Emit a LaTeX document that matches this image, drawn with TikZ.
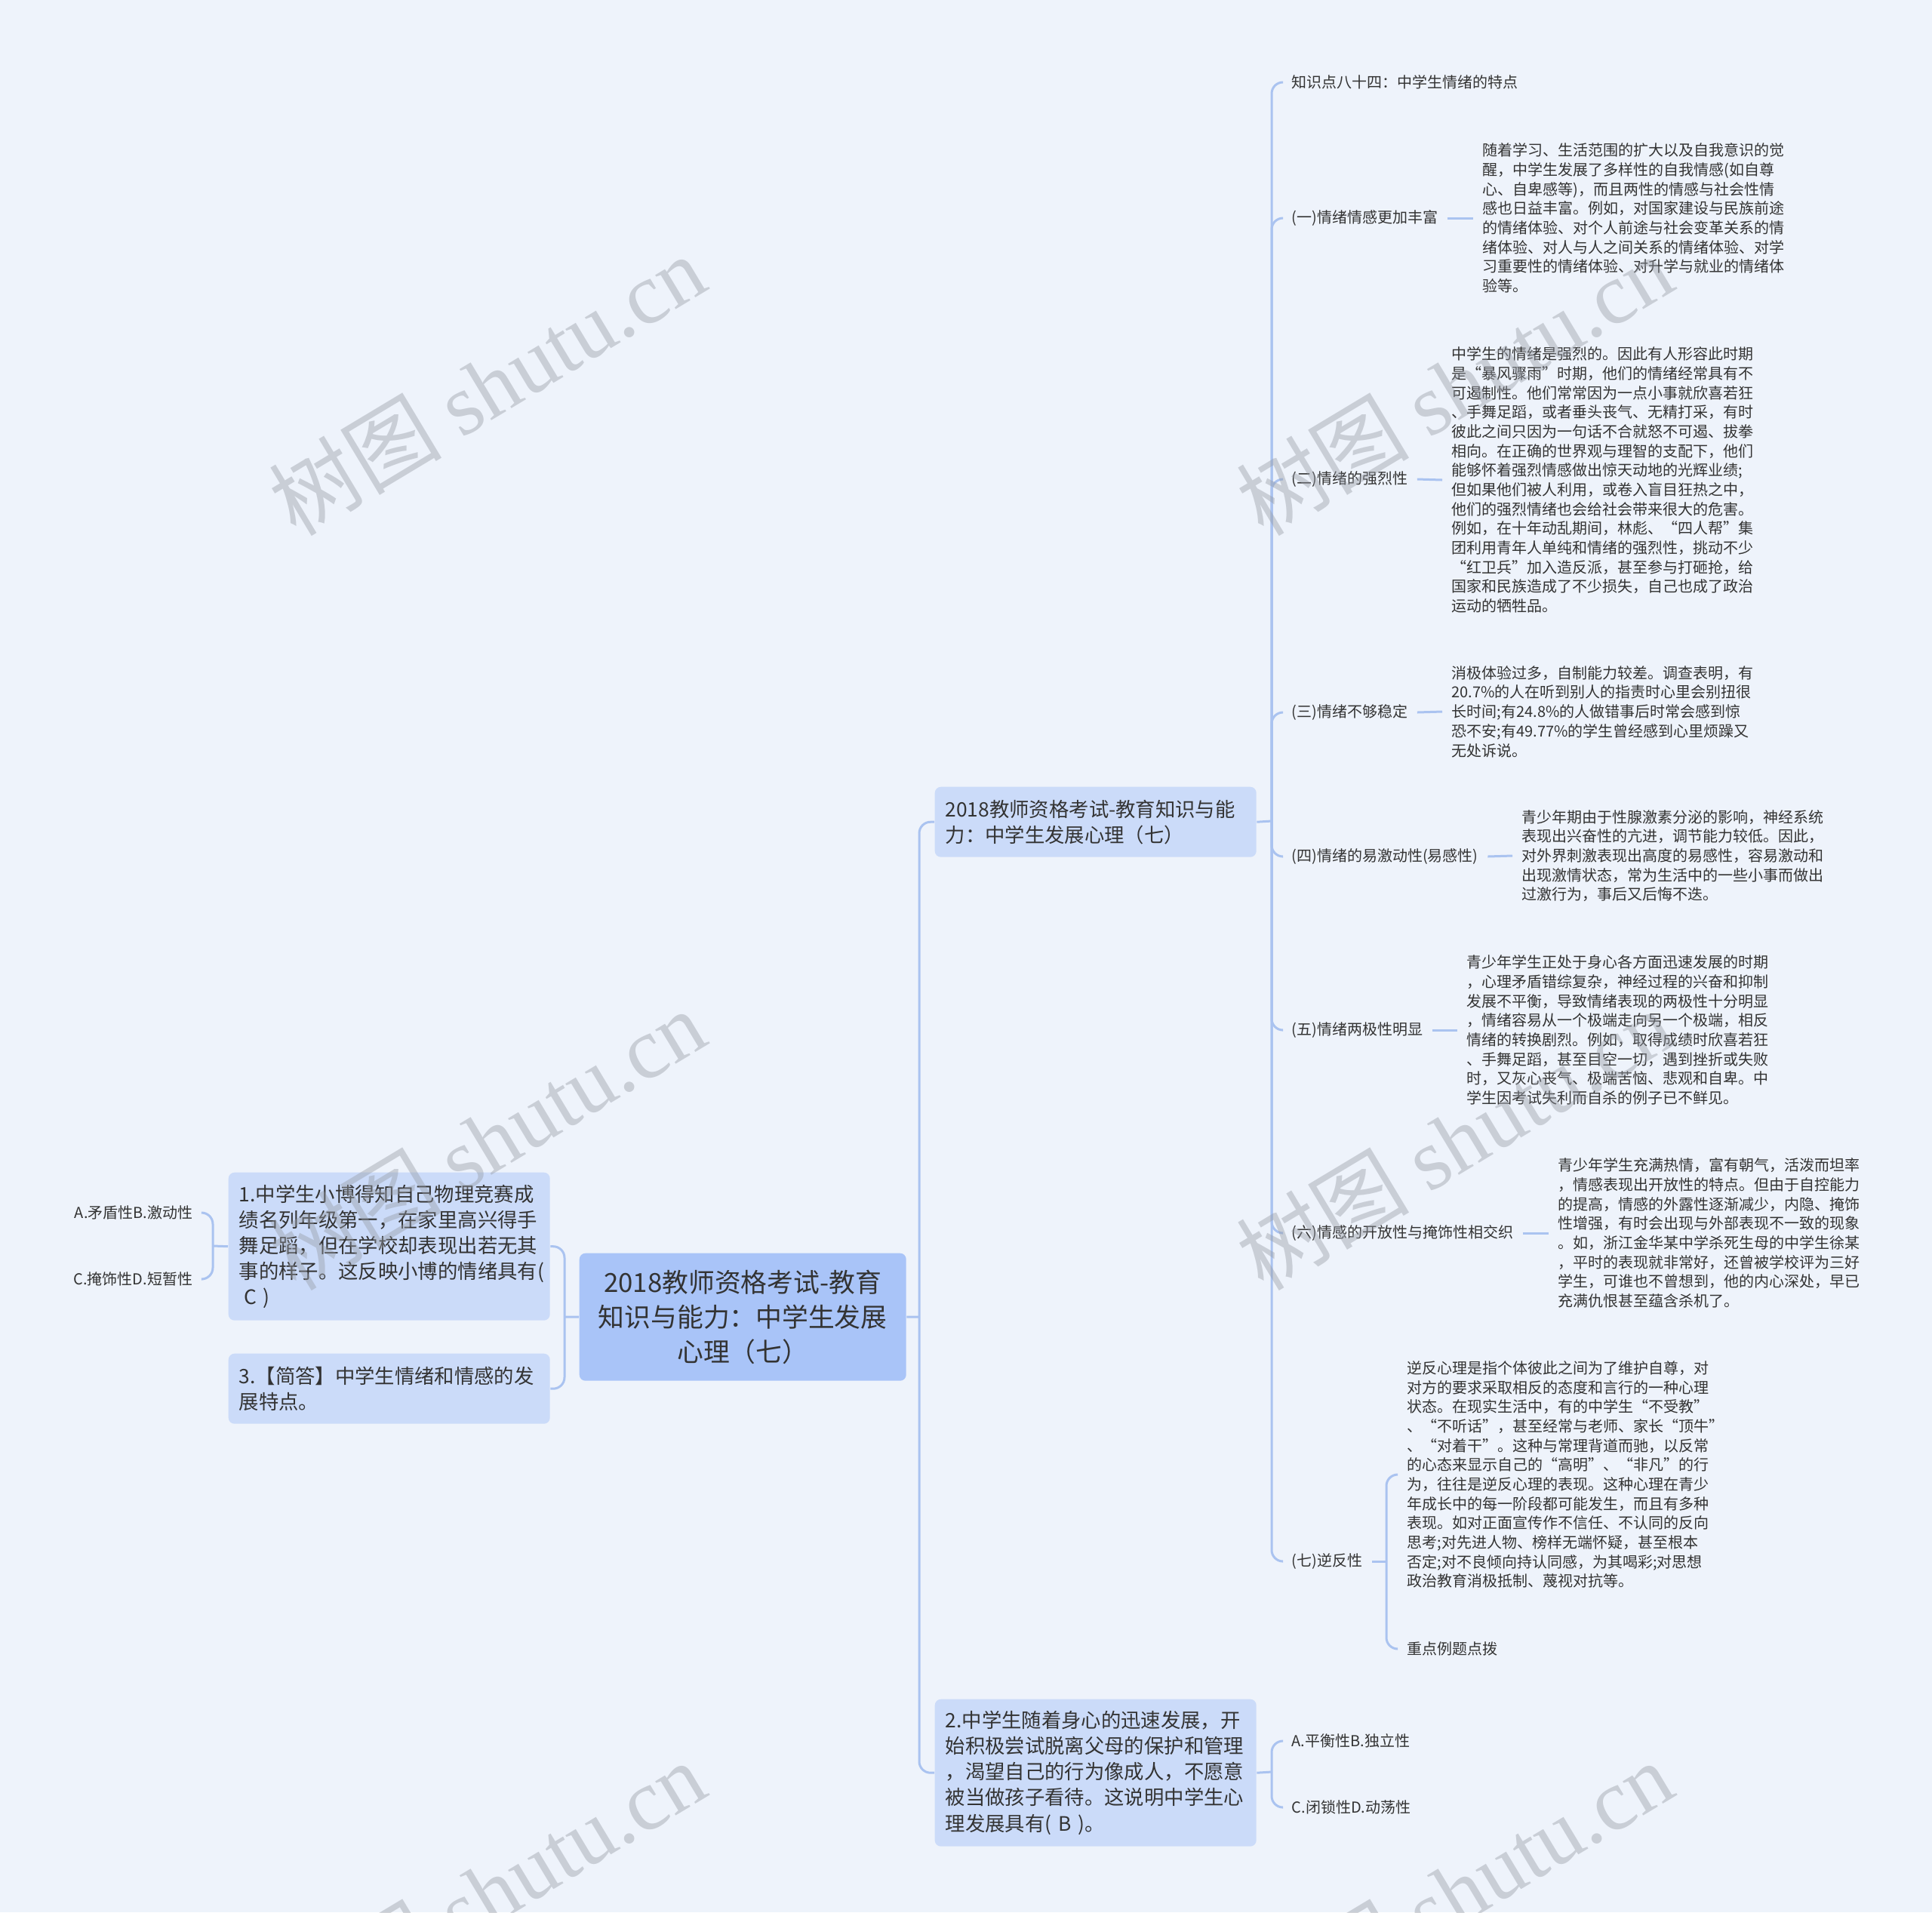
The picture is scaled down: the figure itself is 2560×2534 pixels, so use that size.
\documentclass[tikz,border=0pt]{standalone}
\usepackage{fontspec}
\setmainfont{Noto Sans CJK SC}
\newfontfamily\wmlatin{Liberation Serif}
\definecolor{bgc}{RGB}{238,243,251}
\definecolor{rootc}{RGB}{169,196,248}
\definecolor{boxc}{RGB}{203,219,249}
\definecolor{linec}{RGB}{170,195,240}
\definecolor{txt}{RGB}{51,51,51}
\definecolor{wmc}{RGB}{150,155,165}
\tikzset{
  conn/.style={draw=linec, line width=0.3mm, rounded corners=1.5mm},
  rootbox/.style={fill=rootc, rounded corners=0.8mm, text=txt, align=center, text width=40.5mm, minimum height=16.9mm, inner xsep=1.4mm, inner ysep=0pt, anchor=north west, font=\fontsize{9.9}{13.1}\selectfont},
  qbox/.style={fill=boxc, rounded corners=0.8mm, text=txt, align=left, text width=39.8mm, inner xsep=1.4mm, inner ysep=0pt, anchor=north west, font=\fontsize{7.5}{9.7}\selectfont},
  lbl/.style={text=txt, inner xsep=1.2mm, inner ysep=0pt, align=left, font=\fontsize{5.69}{7.31}\selectfont},
  wmark/.style={text=wmc, opacity=0.42, rotate=31, inner sep=0pt, font=\fontsize{32.7}{36}\selectfont}
}
\begin{document}
\begin{tikzpicture}[x=0.1mm, y=-0.1mm]
\useasboundingbox (0,0) rectangle (2560,2534);
\fill[bgc] (0,0) rectangle (2560,2534);

% boxes
\node[rootbox] (root) at (767,1660) {2018教师资格考试-教育\\知识与能力：中学生发展\\心理（七）};
\node[qbox, minimum height=9.3mm] (A) at (1238,1042) {2018教师资格考试-教育知识与能\\力：中学生发展心理（七）};
\node[qbox, minimum height=19.5mm] (B) at (1238,2251) {2.中学生随着身心的迅速发展，开\\始积极尝试脱离父母的保护和管理\\，渴望自己的行为像成人，不愿意\\被当做孩子看待。这说明中学生心\\理发展具有( B )。};
\node[qbox, minimum height=19.6mm] (q1) at (302,1553) {1.中学生小博得知自己物理竞赛成\\绩名列年级第一，在家里高兴得手\\舞足蹈，但在学校却表现出若无其\\事的样子。这反映小博的情绪具有(\\\hspace*{0.25em}C )};
\node[qbox, minimum height=9.3mm] (q3) at (302,1793) {3.【简答】中学生情绪和情感的发\\展特点。};

% left labels
\node[lbl, anchor=east] (c1) at (268,1607) {A.矛盾性B.激动性};
\node[lbl, anchor=east] (c2) at (268,1695) {C.掩饰性D.短暂性};

% right labels of A
\node[lbl, anchor=west] (k0) at (1699,109) {知识点八十四：中学生情绪的特点};
\node[lbl, anchor=west] (k1) at (1699,289) {(一)情绪情感更加丰富};
\node[lbl, anchor=west] (k2) at (1699,635) {(二)情绪的强烈性};
\node[lbl, anchor=west] (k3) at (1699,944) {(三)情绪不够稳定};
\node[lbl, anchor=west] (k4) at (1699,1135) {(四)情绪的易激动性(易感性)};
\node[lbl, anchor=west] (k5) at (1699,1365) {(五)情绪两极性明显};
\node[lbl, anchor=west] (k6) at (1699,1634) {(六)情感的开放性与掩饰性相交织};
\node[lbl, anchor=west] (k7) at (1699,2069) {(七)逆反性};

% paragraphs
\node[lbl, anchor=west] (p1) at (1952,289) {随着学习、生活范围的扩大以及自我意识的觉\\醒，中学生发展了多样性的自我情感(如自尊\\心、自卑感等)，而且两性的情感与社会性情\\感也日益丰富。例如，对国家建设与民族前途\\的情绪体验、对个人前途与社会变革关系的情\\绪体验、对人与人之间关系的情绪体验、对学\\习重要性的情绪体验、对升学与就业的情绪体\\验等。};
\node[lbl, anchor=west] (p2) at (1911,636) {中学生的情绪是强烈的。因此有人形容此时期\\是“暴风骤雨”时期，他们的情绪经常具有不\\可遏制性。他们常常因为一点小事就欣喜若狂\\、手舞足蹈，或者垂头丧气、无精打采，有时\\彼此之间只因为一句话不合就怒不可遏、拔拳\\相向。在正确的世界观与理智的支配下，他们\\能够怀着强烈情感做出惊天动地的光辉业绩;\\但如果他们被人利用，或卷入盲目狂热之中，\\他们的强烈情绪也会给社会带来很大的危害。\\例如，在十年动乱期间，林彪、“四人帮”集\\团利用青年人单纯和情绪的强烈性，挑动不少\\“红卫兵”加入造反派，甚至参与打砸抢，给\\国家和民族造成了不少损失，自己也成了政治\\运动的牺牲品。};
\node[lbl, anchor=west] (p3) at (1911,943) {消极体验过多，自制能力较差。调查表明，有\\20.7\%的人在听到别人的指责时心里会别扭很\\长时间;有24.8\%的人做错事后时常会感到惊\\恐不安;有49.77\%的学生曾经感到心里烦躁又\\无处诉说。};
\node[lbl, anchor=west] (p4) at (2004,1134) {青少年期由于性腺激素分泌的影响，神经系统\\表现出兴奋性的亢进，调节能力较低。因此，\\对外界刺激表现出高度的易感性，容易激动和\\出现激情状态，常为生活中的一些小事而做出\\过激行为，事后又后悔不迭。};
\node[lbl, anchor=west] (p5) at (1931,1365) {青少年学生正处于身心各方面迅速发展的时期\\，心理矛盾错综复杂，神经过程的兴奋和抑制\\发展不平衡，导致情绪表现的两极性十分明显\\，情绪容易从一个极端走向另一个极端，相反\\情绪的转换剧烈。例如，取得成绩时欣喜若狂\\、手舞足蹈，甚至目空一切，遇到挫折或失败\\时，又灰心丧气、极端苦恼、悲观和自卑。中\\学生因考试失利而自杀的例子已不鲜见。};
\node[lbl, anchor=west] (p6) at (2052,1634) {青少年学生充满热情，富有朝气，活泼而坦率\\，情感表现出开放性的特点。但由于自控能力\\的提高，情感的外露性逐渐减少，内隐、掩饰\\性增强，有时会出现与外部表现不一致的现象\\。如，浙江金华某中学杀死生母的中学生徐某\\，平时的表现就非常好，还曾被学校评为三好\\学生，可谁也不曾想到，他的内心深处，早已\\充满仇恨甚至蕴含杀机了。};
\node[lbl, anchor=west] (p7) at (1852,1954) {逆反心理是指个体彼此之间为了维护自尊，对\\对方的要求采取相反的态度和言行的一种心理\\状态。在现实生活中，有的中学生“不受教”\\、“不听话"，甚至经常与老师、家长“顶牛"\\、“对着干”。这种与常理背道而驰，以反常\\的心态来显示自己的“高明”、“非凡”的行\\为，往往是逆反心理的表现。这种心理在青少\\年成长中的每一阶段都可能发生，而且有多种\\表现。如对正面宣传作不信任、不认同的反向\\思考;对先进人物、榜样无端怀疑，甚至根本\\否定;对不良倾向持认同感，为其喝彩;对思想\\政治教育消极抵制、蔑视对抗等。};
\node[lbl, anchor=west] (z7) at (1852,2185) {重点例题点拨};

% B labels
\node[lbl, anchor=west] (b1) at (1699,2307) {A.平衡性B.独立性};
\node[lbl, anchor=west] (b2) at (1699,2395) {C.闭锁性D.动荡性};

% junction coordinates
\coordinate (jr) at (1218,1745);
\coordinate (jl) at (748,1745);
\coordinate (ja) at (1685,1088);
\coordinate (jb) at (1685,2348);
\coordinate (j1) at (282,1651);
\coordinate (j7) at (1837,2069);

% connectors
\draw[conn] (root.east) -- (jr);
\draw[conn] (jr) |- (A.west);
\draw[conn] (jr) |- (B.west);
\draw[conn] (root.west) -- (jl);
\draw[conn] (jl) |- (q1.east);
\draw[conn] (jl) |- (q3.east);
\draw[conn] (q1.west) -- (j1);
\draw[conn] (j1) |- (c1.east);
\draw[conn] (j1) |- (c2.east);
\draw[conn] (A.east) -- (ja);
\foreach \k in {k0,k1,k2,k3,k4,k5,k6,k7} {\draw[conn] (ja) |- (\k.west);}
\draw[conn] (k1.east) -- (p1.west);
\draw[conn] (k2.east) -- (p2.west);
\draw[conn] (k3.east) -- (p3.west);
\draw[conn] (k4.east) -- (p4.west);
\draw[conn] (k5.east) -- (p5.west);
\draw[conn] (k6.east) -- (p6.west);
\draw[conn] (k7.east) -- (j7);
\draw[conn] (j7) |- (p7.west);
\draw[conn] (j7) |- (z7.west);
\draw[conn] (B.east) -- (jb);
\draw[conn] (jb) |- (b1.west);
\draw[conn] (jb) |- (b2.west);

% watermarks
\node[wmark] (w1) at (645,510) {树图 {\wmlatin shutu.cn}};
\node[wmark] (w2) at (1927,510) {树图 {\wmlatin shutu.cn}};
\node[wmark] (w3) at (645,1510) {树图 {\wmlatin shutu.cn}};
\node[wmark] (w4) at (1927,1510) {树图 {\wmlatin shutu.cn}};
\node[wmark] (w5) at (645,2506) {树图 {\wmlatin shutu.cn}};
\node[wmark] (w6) at (1927,2506) {树图 {\wmlatin shutu.cn}};
\end{tikzpicture}
\end{document}
